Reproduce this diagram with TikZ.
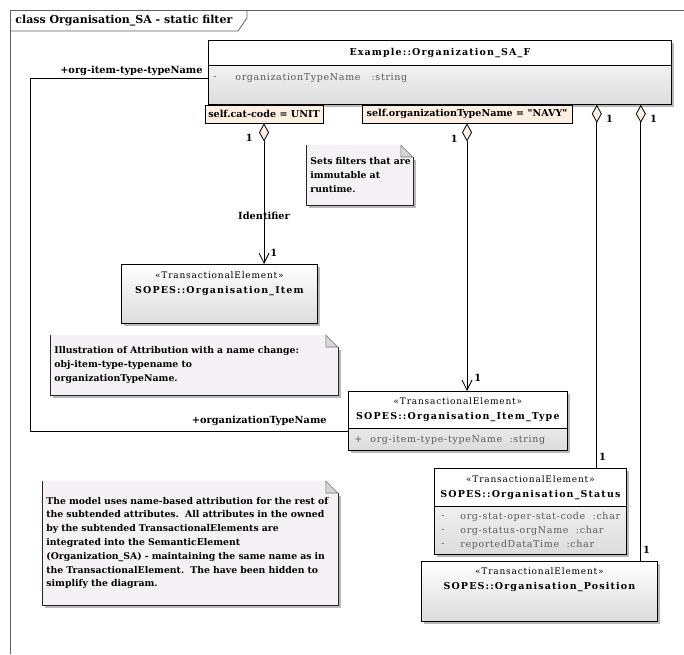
\documentclass[tikz,border=0pt]{standalone}
\usepackage{fontspec}
\setmainfont{DejaVu Serif}
\newfontfamily\classfamily{DejaVu Serif}[LetterSpace=12]
\newfontfamily\stereofamily{DejaVu Serif}[LetterSpace=9]
\newfontfamily\attrfamily{DejaVu Serif}[LetterSpace=7]
\newfontfamily\quotefamily{DejaVu Serif}[Ligatures=TeXOff]
\usetikzlibrary{arrows.meta, positioning, shadows, backgrounds}
\definecolor{notefill}{HTML}{F5F1F5}
\definecolor{foldgray}{HTML}{D6D6D6}
\definecolor{constrfill}{HTML}{FDF0E2}
\definecolor{classgray}{HTML}{DCDCDC}
\definecolor{shadowgray}{HTML}{B9B9B9}
\definecolor{attrgray}{HTML}{5A5A5A}
\definecolor{framegray}{HTML}{606060}
\newcommand{\labelfont}{\fontsize{9.8}{12}\selectfont\bfseries}
\newcommand{\notefont}{\fontsize{9.3}{13.8}\selectfont\bfseries}
\newcommand{\titlefont}{\fontsize{11}{13}\selectfont\bfseries}
\newcommand{\namefont}{\classfamily\fontsize{9.5}{14}\selectfont\bfseries}
\newcommand{\transel}{{\stereofamily\mdseries\fontsize{9}{14}\selectfont «TransactionalElement»}}
\newcommand{\dq}{{\quotefamily"}}
% note outline with a folded corner, drawn behind the note text
\newcommand{\umlnote}[1]{%
    \fill[shadowgray] ([shift={(3pt,-3pt)}]#1.south west) rectangle ([shift={(3pt,-15pt)}]#1.north east);
    \fill[notefill] (#1.north west) -- ([xshift=-12pt]#1.north east) -- ([yshift=-12pt]#1.north east)
        -- (#1.south east) -- (#1.south west) -- cycle;
    \draw[black!85] ([yshift=-12pt]#1.north east) -- (#1.south east) -- (#1.south west) -- (#1.north west);
    \filldraw[fill=foldgray, draw=black!55, line width=0.6pt] ([xshift=-12pt]#1.north east)
        -- ([xshift=-12pt, yshift=-12pt]#1.north east) -- ([yshift=-12pt]#1.north east) -- cycle;
}
\tikzset{
    umldiagram/.style={x=1pt, y=-1pt, line width=0.8pt, font=\labelfont,
        >={Straight Barb[length=10pt, width=10pt]}},
    classbox/.style={draw, anchor=north west, inner sep=0pt, top color=white, bottom color=classgray,
        drop shadow={shadow xshift=3pt, shadow yshift=-3pt, fill=shadowgray, opacity=1}},
    classhead/.style={draw, anchor=north west, inner sep=0pt, fill=white, align=center, font=\namefont},
    classname/.style={inner sep=0pt, align=center, font=\namefont},
    attrsign/.style={anchor=west, inner sep=0pt, text=attrgray, font=\attrfamily\fontsize{9.5}{12}\selectfont},
    attr/.style={anchor=west, inner sep=0pt, text=attrgray, font=\attrfamily\fontsize{9.5}{12}\selectfont},
    note/.style={anchor=north west, inner xsep=4pt, inner ysep=0pt, align=left, font=\notefont},
    constraint/.style={draw, fill=constrfill, inner xsep=2pt, inner ysep=0pt, minimum height=18pt,
        font=\fontsize{9.6}{12}\selectfont\bfseries},
    mult/.style={inner sep=0pt},
    % aggregation ends: hollow diamond at the whole, open arrow at the part
    aggregation/.style={{Diamond[length=18pt, width=10pt, fill=constrfill]}-},
    navigable/.style={{Diamond[length=18pt, width=10pt, fill=constrfill]}->},
}
\begin{document}
\begin{tikzpicture}[umldiagram]
    \useasboundingbox (0,0) rectangle (684,654);

    % frame
    \draw[framegray] (10,654) -- (10,10) -- (684,10);
    \draw[framegray] (10,31) -- (238,31) -- (247,18) -- (247,10);
    \node[anchor=west, inner sep=0pt, font=\titlefont] (frametitle) at (15,21) {class Organisation\_SA - static filter};

    % filtered class
    \node[classbox, minimum width=463pt, minimum height=64pt] (orgsaf) at (208,40) {};
    \node[classhead, minimum width=463pt, minimum height=25pt] (orgsafhead) at (208,40) {Example::Organization\_SA\_F};
    \node[attrsign] (orgsafsign) at (213,78) {-};
    \node[attr] (orgsafattr) at (235,78) {organizationTypeName \ \ :string};

    \node[constraint, minimum width=118pt] (catcode) at (264,114) {self.cat-code = UNIT};
    \node[constraint, minimum width=210pt] (navy) at (467,114) {self.organizationTypeName = \dq NAVY\dq};

    % subtended elements
    \node[classbox, minimum width=196pt, minimum height=59pt] (item) at (121,264) {};
    \node[classname, below=7pt of item.north] (itemname) {\transel\\[1pt] SOPES::Organisation\_Item};

    \node[classbox, minimum width=219pt, minimum height=59pt] (itemtype) at (348,391) {};
    \node[classhead, minimum width=219pt, minimum height=37pt] (itemtypehead) at (348,391) {\transel\\[1pt] SOPES::Organisation\_Item\_Type};
    \node[attrsign] (itemtypesign) at (354,440) {+};
    \node[attr] (itemtypeattr) at (370,440) {org-item-type-typeName \ :string};

    \node[classbox, minimum width=192pt, minimum height=86pt] (status) at (434,468) {};
    \node[classhead, minimum width=192pt, minimum height=38pt] (statushead) at (434,468) {\transel\\[1pt] SOPES::Organisation\_Status};
    \node[attrsign] (statussigna) at (441,517) {-};
    \node[attr] (statusattra) at (460,517) {org-stat-oper-stat-code \ :char};
    \node[attrsign] (statussignb) at (441,531) {-};
    \node[attr] (statusattrb) at (460,531) {org-status-orgName \ :char};
    \node[attrsign] (statussignc) at (441,545) {-};
    \node[attr] (statusattrc) at (460,545) {reportedDataTime \ :char};

    \node[classbox, minimum width=236pt, minimum height=60pt] (position) at (421,561) {};
    \node[classname, below=6pt of position.north] (positionname) {\transel\\[1pt] SOPES::Organisation\_Position};

    % notes
    \node[note, inner xsep=1pt, minimum width=106pt, minimum height=59pt, text width=104pt] (filternote) at (306,145)
        {\hspace{3pt}Sets filters that are\\ \hspace{3pt}immutable at\\ \hspace{3pt}runtime.};
    \node[note, minimum width=287pt, minimum height=59pt, text width=279pt] (renamenote) at (50,335)
        {Illustration of Attribution with a name change:\\ obj-item-type-typename to\\ organizationTypeName.};
    \node[note, minimum width=295pt, minimum height=123pt, text width=287pt] (modelnote) at (42,481)
        {The model uses name-based attribution for the rest of\\
         the subtended attributes.\ \ All attributes in the owned\\
         by the subtended TransactionalElements are\\
         integrated into the SemanticElement\\
         (Organization\_SA) - maintaining the same name as in\\
         the TransactionalElement.\ \ The have been hidden to\\
         simplify the diagram.};
    \begin{scope}[on background layer]
        \umlnote{filternote}
        \umlnote{renamenote}
        \umlnote{modelnote}
    \end{scope}

    % associations
    \coordinate (statuslink) at ([xshift=-75pt]orgsaf.south east);
    \coordinate (positionlink) at ([xshift=-31pt]orgsaf.south east);
    \coordinate (lane) at (30,0);
    \coordinate (typelink) at ([yshift=-10.5pt]itemtype.west);

    \draw[navigable] (catcode.south) -- node[mult, pos=0.1, left=11pt] (catmulta) {1}
        node[mult, pos=0.66] (catrole) {Identifier}
        node[mult, pos=0.92, right=6pt] (catmultb) {1} (catcode.south |- item.north);
    \draw[navigable] (navy.south) -- node[mult, pos=0.056, left=9pt] (navymulta) {1}
        node[mult, pos=0.95, right=7pt] (navymultb) {1} (navy.south |- itemtype.north);
    \draw[aggregation] (statuslink) -- node[mult, pos=0.04, right=9pt] (statusmulta) {1}
        node[mult, pos=0.97, right=2pt] (statusmultb) {1} (statuslink |- status.north);
    \draw[aggregation] (positionlink) -- node[mult, pos=0.03, right=9pt] (positionmulta) {1}
        node[mult, pos=0.976, right=2pt] (positionmultb) {1} (positionlink |- position.north);

    \draw (orgsafattr -| orgsaf.west) node[mult, above left=2pt and 5pt] (srcrole) {+org-item-type-typeName}
        -- (orgsafattr -| lane) -- (typelink -| lane) -- (typelink)
        node[mult, above left=5pt and 21pt] (tgtrole) {+organizationTypeName};
\end{tikzpicture}
\end{document}
